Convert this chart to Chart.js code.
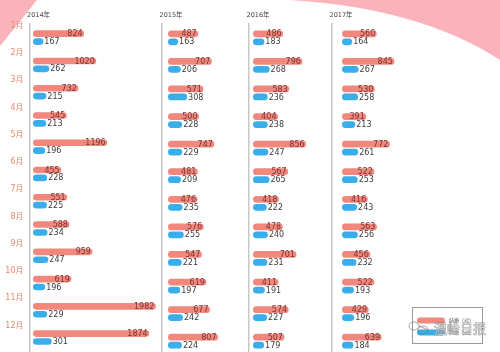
<!DOCTYPE html>
<html>
<head>
<meta charset="utf-8">
<script src="https://cdn.jsdelivr.net/npm/chart.js@4"></script>
<style>
  html, body { margin: 0; padding: 0; background: #fff; overflow: hidden; width: 500px; height: 352px; }
  canvas { position: absolute; left: 0; top: 0; }
</style>
</head>
<body>
<canvas id="c0" width="500" height="362"></canvas>
<canvas id="c1" width="500" height="362"></canvas>
<canvas id="c2" width="500" height="362"></canvas>
<canvas id="c3" width="500" height="362"></canvas>
<script>
const months = ['1月', '2月', '3月', '4月', '5月', '6月', '7月', '8月', '9月', '10月', '11月', '12月'];
const years = ['2014年', '2015年', '2016年', '2017年'];
const seriesNames = ['结婚（对）', '离婚（对）'];

const marriage2014 = [824, 1020, 732, 545, 1196, 455, 551, 588, 959, 619, 1982, 1874];
const divorce2014 = [167, 262, 215, 213, 196, 228, 225, 234, 247, 196, 229, 301];
const marriage2015 = [487, 707, 571, 500, 747, 481, 476, 576, 547, 619, 677, 807];
const divorce2015 = [163, 206, 308, 228, 229, 209, 235, 255, 221, 197, 242, 224];
const marriage2016 = [486, 796, 583, 404, 856, 567, 418, 478, 701, 411, 574, 507];
const divorce2016 = [183, 268, 236, 238, 247, 265, 222, 240, 231, 191, 227, 179];
const marriage2017 = [560, 845, 530, 391, 772, 522, 416, 563, 456, 522, 429, 639];
const divorce2017 = [164, 267, 258, 213, 261, 253, 243, 256, 232, 193, 196, 184];

const marriage = [marriage2014, marriage2015, marriage2016, marriage2017];
const divorce = [divorce2014, divorce2015, divorce2016, divorce2017];

const salmon = '#f2877d';
const blue = '#3aaeea';
const axisX = [29.5, 162, 249, 332];   // vertical line of each panel
const barGap = [3.5, 6, 4, 10];        // space between line and bar start
const panelW = 130;
const pxPerUnit = 0.062;

// pink decorations, drawn under everything
const background = {
  id: 'background',
  beforeDraw(chart) {
    const ctx = chart.ctx;
    ctx.save();
    ctx.fillStyle = '#fff';
    ctx.fillRect(0, 0, chart.width, chart.height);
    ctx.fillStyle = '#fab3bb';
    ctx.beginPath();
    ctx.moveTo(0, 0);
    ctx.lineTo(37, 0);
    ctx.lineTo(0, 46);
    ctx.closePath();
    ctx.fill();
    ctx.beginPath();
    ctx.moveTo(290, 0);
    ctx.quadraticCurveTo(420, 8, 500, 60);
    ctx.lineTo(500, 0);
    ctx.closePath();
    ctx.fill();
    ctx.restore();
  }
};

// numbers on / next to bars
const valueLabels = {
  id: 'valueLabels',
  afterDatasetsDraw(chart) {
    const ctx = chart.ctx;
    ctx.save();
    ctx.font = '8px "DejaVu Sans", sans-serif';
    ctx.textBaseline = 'middle';
    chart.data.datasets.forEach((ds, di) => {
      chart.getDatasetMeta(di).data.forEach((bar, i) => {
        const v = ds.data[i];
        if (di === 0) {
          ctx.textAlign = 'right';
          ctx.fillStyle = '#7a3530';
          ctx.fillText(v, bar.x - 1.5, bar.y + 0.5);
        } else {
          ctx.textAlign = 'left';
          ctx.fillStyle = '#3a3a3a';
          ctx.fillText(v, bar.x + 1, bar.y + 0.5);
        }
      });
    });
    ctx.restore();
  }
};

function yearTitle(text) {
  return {
    id: 'yearTitle',
    afterDraw(chart) {
      const ctx = chart.ctx;
      ctx.save();
      ctx.font = '6.5px "DejaVu Sans", "Noto Sans CJK SC", sans-serif';
      ctx.fillStyle = '#444';
      ctx.textBaseline = 'middle';
      ctx.textAlign = 'left';
      ctx.fillText(text, chart.chartArea.left - 2.5, 15.5);
      ctx.restore();
    }
  };
}

// legend box + watermark in the bottom-right corner
const legendBox = {
  id: 'legendBox',
  afterDraw(chart) {
    const ctx = chart.ctx;
    ctx.save();
    ctx.fillStyle = '#fff';
    ctx.fillRect(412, 307, 70, 36);
    ctx.strokeStyle = '#9a9a9a';
    ctx.lineWidth = 1;
    ctx.strokeRect(412.5, 307.5, 70, 36);
    const pill = (x, y, w, h, c) => {
      ctx.fillStyle = c;
      ctx.beginPath();
      ctx.roundRect(x, y - h / 2, w, h, h / 2);
      ctx.fill();
    };
    pill(417, 320.5, 28, 6, salmon);
    pill(417, 332.5, 28, 6, blue);
    ctx.font = '5px "Noto Sans CJK SC", sans-serif';
    ctx.fillStyle = '#555';
    ctx.textBaseline = 'middle';
    ctx.textAlign = 'left';
    ctx.fillText(seriesNames[0], 449, 320);
    ctx.fillText(seriesNames[1], 449, 332);
    // watermark
    ctx.font = '13px "Noto Sans CJK SC", sans-serif';
    ctx.fillStyle = 'rgba(255,255,255,0.6)';
    ctx.strokeStyle = 'rgba(110,110,110,0.75)';
    ctx.lineWidth = 0.8;
    ctx.strokeText('温岭日报', 434, 328);
    ctx.fillText('温岭日报', 434, 328);
    ctx.beginPath();
    ctx.ellipse(414, 326, 5, 4, 0, 0, Math.PI * 2);
    ctx.ellipse(423, 330, 5, 4, 0, 0, Math.PI * 2);
    ctx.stroke();
    ctx.restore();
  }
};

years.forEach((year, p) => {
  const first = p === 0;
  const xMin = -barGap[p] / pxPerUnit;
  const plugins = [valueLabels, yearTitle(year)];
  if (first) plugins.unshift(background);
  if (p === 3) plugins.push(legendBox);

  new Chart(document.getElementById('c' + p), {
    type: 'bar',
    data: {
      labels: months,
      datasets: [
        { label: seriesNames[0], data: marriage[p], backgroundColor: salmon },
        { label: seriesNames[1], data: divorce[p], backgroundColor: blue }
      ]
    },
    options: {
      responsive: false,
      animation: false,
      indexAxis: 'y',
      categoryPercentage: 0.58,
      barPercentage: 0.84,
      datasets: {
        bar: { borderRadius: 4, borderSkipped: false }
      },
      layout: {
        padding: { left: first ? 0 : axisX[p], right: 500 - axisX[p] - panelW, top: 24, bottom: 7 }
      },
      plugins: {
        legend: { display: false },
        tooltip: { enabled: false }
      },
      scales: {
        x: {
          type: 'linear',
          display: false,
          min: xMin,
          max: xMin + panelW / pxPerUnit
        },
        y: {
          grid: { display: false, drawTicks: false },
          border: { display: true, color: '#c8c8c8', width: 1.5 },
          ticks: {
            display: first,
            color: '#e8896d',
            font: { size: 8, family: '"DejaVu Sans", "Noto Sans CJK SC", sans-serif' },
            labelOffset: -12,
            padding: 6
          },
          afterFit(scale) { scale.width = first ? axisX[0] : 0; }
        }
      }
    },
    plugins: plugins
  });
});
</script>
</body>
</html>
